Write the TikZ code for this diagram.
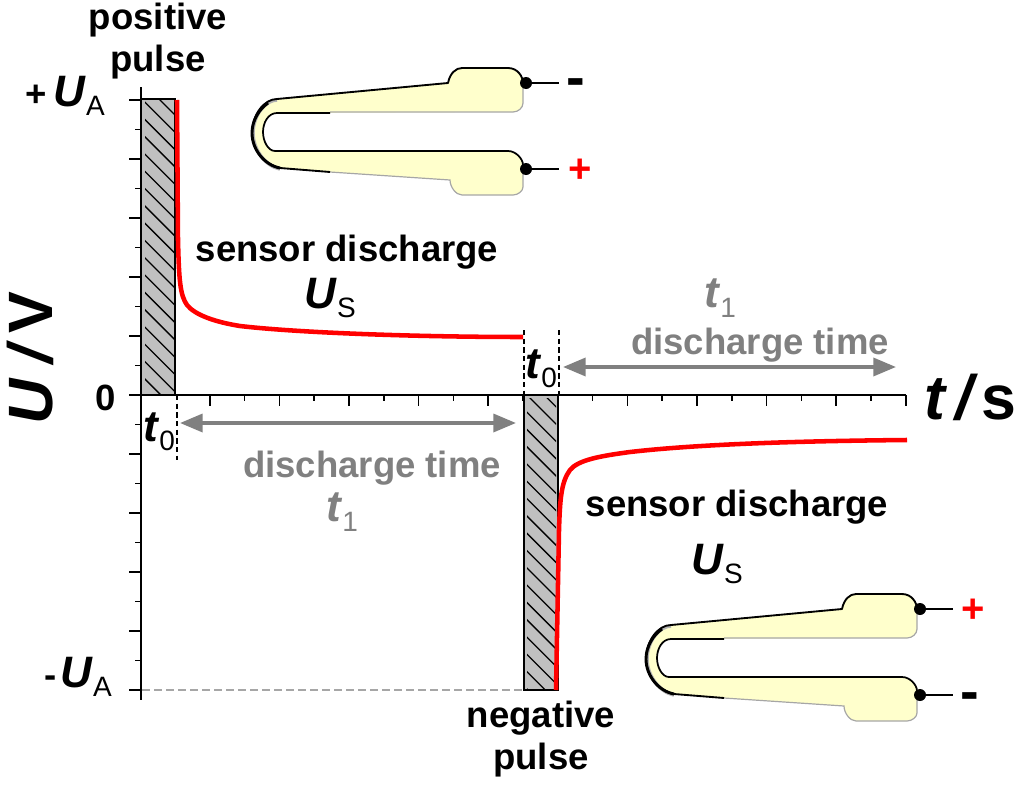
\documentclass[tikz,border=0pt]{standalone}
\usepackage{fontspec}
\setmainfont{Liberation Sans}
\usetikzlibrary{
    arrows.meta,
    calc
}
\definecolor{pastegel}{HTML}{FFFFCC}
\definecolor{pulsegrey}{HTML}{C0C0C0}
\tikzset{
    lab/.style={font=\fontsize{27.4}{31}\selectfont\bfseries, align=center, inner sep=0pt},
    greylab/.style={lab, text=gray},
    big/.style={font=\fontsize{47}{50}\selectfont\bfseries\itshape, inner sep=0pt},
    axisline/.style={black, line width=1.5pt},
    tick/.style={black, line width=1.1pt},
    redcurve/.style={red, line width=3.4pt},
    timearrow/.style={gray, line width=2.6pt, {Triangle[length=17pt,width=13.5pt]}-{Triangle[length=17pt,width=13.5pt]}},
    t0line/.style={black, line width=0.8pt, dash pattern=on 4pt off 2.5pt},
    hatchline/.style={black, line width=1pt},
    termdot/.style={circle, fill=black, inner sep=0pt, minimum size=9pt},
    sign/.style={font=\fontsize{30}{30}\selectfont\bfseries, inner sep=0pt},
    minussign/.style={font=\fontsize{42}{42}\selectfont\bfseries, inner sep=0pt}
}
\newcommand{\symb}[2]{{\fontsize{33}{33}\selectfont\textit{#1}}\raisebox{-7pt}{\fontsize{21}{21}\selectfont\mdseries #2}}
% sensor, drawn with its upper terminal dot at the origin of the pic
\tikzset{
    pics/sensor/.style={code={
        \fill[pastegel]
            (-196,89) -- (-246,85) .. controls (-262,82) and (-274,66) .. (-274,50)
            .. controls (-274,32) and (-262,16) .. (-249,16) -- (-78,0)
            .. controls (-76,-10) and (-70,-15) .. (-64,-15) -- (-18,-15)
            .. controls (-8,-15) and (-3,-6) .. (-3,0) -- (-3,20)
            .. controls (-3,25) and (-8,29) .. (-13,29) -- (-249,30)
            .. controls (-258,30) and (-263,40) .. (-263,49)
            .. controls (-263,58) and (-258,68) .. (-251,68) -- (-18,68)
            .. controls (-10,68) and (-3,76) .. (-3,82) -- (-3,104)
            .. controls (-3,108) and (-8,112) .. (-13,112) -- (-64,112)
            .. controls (-70,112) and (-76,104) .. (-76,97) -- cycle;
        \draw[gray!70, line width=0.9pt]
            (-196,89) -- (-76,97) .. controls (-76,104) and (-70,112) .. (-64,112) -- (-13,112)
            .. controls (-8,112) and (-3,108) .. (-3,104) -- (-3,82);
        \draw[gray!70, line width=0.9pt]
            (-3,5) -- (-3,20) .. controls (-3,25) and (-8,29) .. (-13,29) -- (-196,29);
        \draw[gray!60, line width=2.6pt, line join=round]
            (-246,86) .. controls (-261,83) and (-273,66) .. (-273,50)
            .. controls (-273,33) and (-261,17) .. (-249,17);
        \draw[black, line width=1.4pt, line join=round]
            (-196,89) -- (-246,85) .. controls (-262,82) and (-274,66) .. (-274,50)
            .. controls (-274,32) and (-262,16) .. (-249,16) -- (-78,0)
            .. controls (-76,-10) and (-70,-15) .. (-64,-15) -- (-18,-15)
            .. controls (-8,-15) and (-3,-6) .. (-3,0);
        \draw[black, line width=2.2pt]
            (-246,85) .. controls (-262,82) and (-274,66) .. (-274,50)
            .. controls (-274,38) and (-267,26) .. (-258,20);
        \draw[black, line width=1.3pt, line join=round]
            (-196,30) -- (-249,30)
            .. controls (-258,30) and (-263,40) .. (-263,49)
            .. controls (-263,58) and (-258,68) .. (-251,68) -- (-18,68)
            .. controls (-10,68) and (-3,76) .. (-3,82);
        \node[termdot] (-upper) at (0,0) {};
        \node[termdot] (-lower) at (0,86) {};
        \coordinate (-upperend) at (33,0);
        \coordinate (-lowerend) at (33,86);
        \draw[black, line width=2.2pt] (-upper) -- (-upperend);
        \draw[black, line width=2.2pt] (-lower) -- (-lowerend);
    }}
}
\begin{document}
\begin{tikzpicture}[x=0.75pt, y=-0.75pt]
    \useasboundingbox (0,0) rectangle (1024,785);
    % pulses
    \fill[pulsegrey] (142,99) rectangle (175,395);
    \fill[pulsegrey] (524,395) rectangle (558,690);
    \begin{scope}
        \clip (145,99) rectangle (175,395);
        \foreach \i in {-1,...,17} {
            \draw[hatchline] (142,{82+\i*17.3}) -- (175,{115+\i*17.3});
        }
    \end{scope}
    \begin{scope}
        \clip (527,398) rectangle (556,690);
        \foreach \i in {-1,...,17} {
            \draw[hatchline] (524,{392+\i*17.3}) -- (558,{426+\i*17.3});
        }
    \end{scope}
    \draw[black, line width=0.9pt] (142,99) -- (175,99) -- (175,395);
    \draw[black, line width=0.9pt] (524,395) -- (524,690) -- (558,690) -- (558,395);
    % dashed guides
    \draw[gray!70, line width=1pt, dash pattern=on 6pt off 3pt] (142,690) -- (524,690);
    \draw[t0line] (177,395) -- (177,460);
    \draw[t0line] (524,330) -- (524,395);
    \draw[t0line] (559,330) -- (559,395);
    % axes
    \draw[axisline] (141,87) -- (141,700);
    \draw[axisline] (129,395) -- (906,395);
    \foreach \y in {100,159,218,277,336,454,513,572,631,690} {
        \draw[tick] (129,\y) -- (141,\y);
    }
    \foreach \y in {129.5,188.5,247.5,306.5,365.5,424.5,483.5,542.5,601.5,660.5} {
        \draw[tick] (135,\y) -- (141,\y);
    }
    \foreach \k in {1,3,...,21} {
        \draw[tick] ({175+\k*34.8},395) -- ({175+\k*34.8},406);
    }
    \foreach \k in {2,4,...,20} {
        \draw[tick] ({175+\k*34.8},395) -- ({175+\k*34.8},401);
    }
    % discharge curves
    \draw[redcurve] (177,100) -- (178,240) .. controls (179,280) and (180,295) .. (187,305)
        .. controls (195,315) and (215,322) .. (240,326) .. controls (300,333) and (420,337) .. (523,337);
    \draw[redcurve] (556,690) -- (559,530) .. controls (560,500) and (561,482) .. (570,470)
        .. controls (578,460) and (600,456) .. (630,452) .. controls (700,444) and (800,441) .. (907,440);
    % time arrows
    \coordinate (a1) at (180,423);
    \coordinate (a2) at (516,423);
    \coordinate (b1) at (563,367);
    \coordinate (b2) at (896,367);
    \draw[timearrow] (a1) -- (a2);
    \draw[timearrow] (b1) -- (b2);
    % sensors
    \pic (top) at (526,83) {sensor};
    \pic (bottom) at (920,609) {sensor};
    \node[minussign] (topminus) at (576,88) {-};
    \node[sign, red] (topplus) at (580,171) {+};
    \node[sign, red] (botplus) at (973,611) {+};
    \node[minussign] (botminus) at (970,702) {-};
    % labels
    \node[lab] (pospulse) at (158,41) {positive\\pulse};
    \node[lab] (negpulse) at (541,739) {negative\\pulse};
    \node[lab] (upa) at (65,96) {+\kern5pt\symb{U}{A}};
    \node[lab] (lowa) at (78,677) {-\kern3pt\symb{U}{A}};
    \node[lab] (zero) at (106,398) {0};
    \node[lab] (dis1) at (347,252) {sensor discharge};
    \node[lab] (us1) at (330,298) {\symb{U}{S}};
    \node[lab] (dis2) at (737,507) {sensor discharge};
    \node[lab] (us2) at (717,564) {\symb{U}{S}};
    \node[greylab] (time1) at (372,468) {discharge time};
    \node[greylab] (tone1) at (342,512) {\symb{t}{1}};
    \node[greylab] (time2) at (760,345) {discharge time};
    \node[greylab] (tone2) at (720,298) {\symb{t}{1}};
    \node[lab] (tzero1) at (159,432) {\symb{t}{0}};
    \node[lab] (tzero2) at (541,369) {\symb{t}{0}};
    \node[big] (taxis) at (970,397) {t\kern8pt/\kern6pt\upshape s};
    \node[big, rotate=90] (uaxis) at (30,358) {U\kern12pt/\kern9pt\upshape V};
\end{tikzpicture}
\end{document}
